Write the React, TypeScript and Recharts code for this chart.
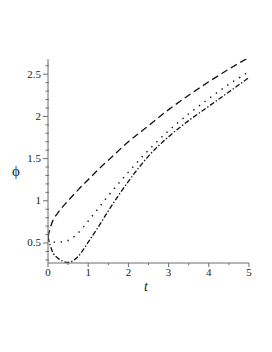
import { LineChart, Line, XAxis, YAxis } from "recharts";

// values
const tValues = [0, 0.05, 0.1, 0.25, 0.5, 0.75, 1, 1.25, 1.5, 2, 2.5, 3, 3.5, 4, 4.5, 5];
const phiDashed = [0.57, 0.67, 0.74, 0.86, 1.0, 1.13, 1.25, 1.37, 1.48, 1.7, 1.89, 2.08, 2.25, 2.41, 2.56, 2.7];
const phiDotted = [0.55, 0.52, 0.51, 0.51, 0.53, 0.62, 0.76, 0.91, 1.06, 1.34, 1.6, 1.83, 2.03, 2.21, 2.38, 2.53];
const phiDashDot = [0.57, 0.48, 0.41, 0.32, 0.27, 0.34, 0.51, 0.69, 0.88, 1.23, 1.53, 1.76, 1.95, 2.12, 2.29, 2.46];

const xMajorTicks = [0, 1, 2, 3, 4, 5];
const xMinorTicks = [0.5, 1.5, 2.5, 3.5, 4.5];
const yMajorTicks = [0.5, 1, 1.5, 2, 2.5];
const yMinorTicks = [
  0.3, 0.4, 0.6, 0.7, 0.8, 0.9, 1.1, 1.2, 1.3, 1.4, 1.6, 1.7, 1.8, 1.9, 2.1, 2.2, 2.3,
  2.4, 2.6,
];

const data = tValues.map((t, i) => ({
  t,
  dashed: phiDashed[i],
  dotted: phiDotted[i],
  dashdot: phiDashDot[i],
}));

const FONT = "Liberation Serif, Times New Roman, serif";
const AXIS = "#6b6b6b";

const XTick = ({ x, y, payload }: any) => {
  const major = xMajorTicks.includes(payload.value);
  return (
    <g>
      <line x1={x} x2={x} y1={y} y2={y + (major ? 4 : 2)} stroke={AXIS} strokeWidth={1} />
      {major && (
        <text x={x} y={y + 13} textAnchor="middle" style={{ fontFamily: FONT, fontSize: 11 }} fill="#222">
          {payload.value}
        </text>
      )}
    </g>
  );
};

const YTick = ({ x, y, payload }: any) => {
  const major = yMajorTicks.includes(payload.value);
  return (
    <g>
      <line x1={x - (major ? 5 : 2.5)} x2={x + (major ? 0 : 1)} y1={y} y2={y} stroke={AXIS} strokeWidth={1} />
      {major && (
        <text x={x - 7} y={y + 3.5} textAnchor="end" style={{ fontFamily: FONT, fontSize: 11 }} fill="#222">
          {payload.value}
        </text>
      )}
    </g>
  );
};

export default function App() {
  return (
    <div style={{ width: 264, height: 344, position: "relative" }}>
      <LineChart
        width={264}
        height={344}
        data={data}
        margin={{ top: 51, right: 23, left: 10, bottom: 59 }}
      >
        <XAxis
          dataKey="t"
          type="number"
          domain={[0, 5]}
          ticks={[...xMajorTicks, ...xMinorTicks].sort((a, b) => a - b)}
          interval={0}
          tick={<XTick />}
          tickLine={false}
          tickSize={0}
          tickMargin={0}
          height={30}
          axisLine={{ stroke: AXIS }}
          allowDataOverflow
        />
        <YAxis
          type="number"
          domain={[0.263, 2.68]}
          ticks={[...yMajorTicks, ...yMinorTicks].sort((a, b) => a - b)}
          interval={0}
          tick={<YTick />}
          tickLine={false}
          tickSize={0}
          tickMargin={0}
          width={30}
          axisLine={{ stroke: AXIS }}
          allowDataOverflow
        />
        <Line
          type="monotone"
          dataKey="dashed"
          stroke="#111"
          strokeWidth={1.3}
          strokeDasharray="7 4"
          dot={false}
          isAnimationActive={false}
        />
        <Line
          type="monotone"
          dataKey="dotted"
          stroke="#111"
          strokeWidth={1.4}
          strokeDasharray="1.4 5.6"
          dot={false}
          isAnimationActive={false}
        />
        <Line
          type="monotone"
          dataKey="dashdot"
          stroke="#111"
          strokeWidth={1.3}
          strokeDasharray="5 2 1.4 2"
          dot={false}
          isAnimationActive={false}
        />
      </LineChart>
      <div
        style={{
          position: "absolute",
          left: 4,
          top: 155,
          fontFamily: FONT,
          fontSize: 15,
          color: "#222",
        }}
      >
        ϕ
      </div>
      <div
        style={{
          position: "absolute",
          left: 136,
          top: 271,
          fontFamily: FONT,
          fontStyle: "italic",
          fontSize: 14,
          color: "#222",
        }}
      >
        t
      </div>
    </div>
  );
}
